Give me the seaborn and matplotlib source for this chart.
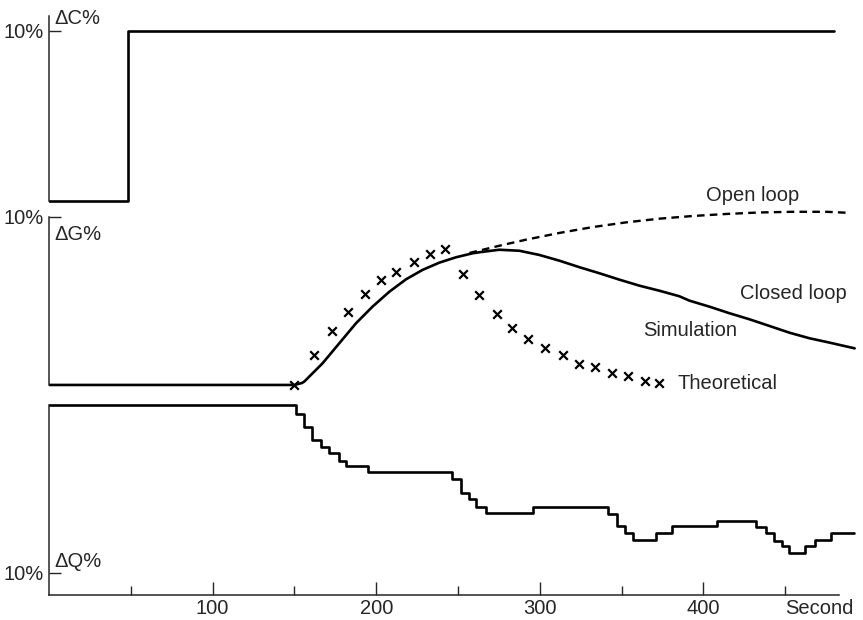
import numpy as np
import seaborn as sns
import matplotlib.pyplot as plt

# data (time in s, values in %)
c_t = [0, 48, 480]
c_val = [0, 10, 10]

closed_t = [0, 150, 154.7, 156, 167.2, 177.4, 187.6, 197.7, 208, 218.2, 228.3, 238.5, 248.7, 258.9,
            263, 275.2, 287.5, 299.7, 311.9, 324.2, 336.4, 348.6, 360.9, 373.1, 385.3, 391.4,
            403.7, 415.9, 428.1, 440.4, 452.6, 464.8, 477.1, 492.4]
closed_val = [0, 0, 0.12, 0.2, 1.29, 2.48, 3.67, 4.66, 5.55, 6.29, 6.85, 7.28, 7.6, 7.84,
              7.9, 8.05, 7.99, 7.74, 7.4, 7.01, 6.65, 6.27, 5.91, 5.61, 5.28, 5.02,
              4.66, 4.27, 3.91, 3.51, 3.11, 2.78, 2.52, 2.18]

open_t = [257, 263, 277, 291.6, 311.9, 332.3, 352.7, 373.1, 393.5, 413.9, 434.3, 454.6, 475, 488.3]
open_val = [7.86, 8.0, 8.33, 8.65, 9.05, 9.4, 9.68, 9.9, 10.06, 10.18, 10.27, 10.31, 10.31, 10.25]

theo_t = [150, 162, 173, 183, 193, 203, 212, 223, 233, 242, 253, 263, 274, 283, 293, 303, 314, 324, 334, 344, 354, 364, 373]
theo_val = [0, 1.79, 3.21, 4.36, 5.42, 6.25, 6.75, 7.3, 7.78, 8.07, 6.61, 5.36, 4.23, 3.37, 2.74, 2.18, 1.79, 1.25, 1.09, 0.69, 0.54, 0.26, 0.14]

q_t = [0, 151, 156, 161, 166, 171, 177, 181.5, 195, 246, 252, 257, 261, 267, 296, 341.5, 347, 352, 357, 371, 381, 408, 432, 438, 443, 448, 452.5, 462, 468, 478, 492]
q_val = [0, -0.54, -1.33, -2.08, -2.52, -2.84, -3.32, -3.63, -3.99, -4.42, -5.26, -5.61, -6.09, -6.45, -6.09, -6.49, -7.2, -7.6, -8.04, -7.6, -7.2, -6.89, -7.24, -7.64, -8.08, -8.39, -8.83, -8.39, -8.04, -7.64, -7.64]

major_ticks = [100, 200, 300, 400]
minor_ticks = [50, 150, 250, 350, 450]

sns.set_style("ticks")
plt.rcParams["font.family"] = ["Liberation Sans", "DejaVu Sans"]
FS = 14.5
LW = 1.9

W, H = 863, 620
fig = plt.figure(figsize=(W / 100, H / 100), dpi=100)

def panel(top_px, bot_px, ylim):
    ax = fig.add_axes([49 / W, 1 - bot_px / H, 1 - 49 / W, (bot_px - top_px) / H])
    ax.set_facecolor("none")
    ax.set_xlim(0, 497.5)
    ax.set_ylim(*ylim)
    for s in ["top", "right", "bottom"]:
        ax.spines[s].set_visible(False)
    ax.spines["left"].set_linewidth(1.1)
    ax.tick_params(axis="y", direction="in", length=8.5, width=1, labelsize=FS, pad=4)
    ax.tick_params(axis="x", bottom=False, labelbottom=False)
    ax.set_xlabel("")
    ax.set_ylabel("")
    return ax

ax1 = panel(10.6, 206.1, (-0.3, 11.2))
ax2 = panel(183.4, 390, (-0.3, 12))
ax3 = panel(396.6, 595, (-11.31, 0.5))

# top: delta C
sns.lineplot(x=c_t, y=c_val, ax=ax1, color="black", lw=LW, drawstyle="steps-post",
             estimator=None, sort=False)
ax1.spines["left"].set_bounds(0, 10.9)
ax1.set_yticks([10], ["10%"])
ax1.text(3, 10.75, "\u0394C%", fontsize=FS, va="center", ha="left")

# middle: delta G
sns.lineplot(x=closed_t, y=closed_val, ax=ax2, color="black", lw=LW, estimator=None, sort=False)
sns.lineplot(x=open_t, y=open_val, ax=ax2, color="black", lw=LW * 0.9, estimator=None, sort=False,
             linestyle=(0, (3.2, 2.2)))
sns.scatterplot(x=theo_t, y=theo_val, ax=ax2, marker="x", color="black", s=38, linewidth=1.6)
ax2.spines["left"].set_bounds(0, 10)
ax2.set_yticks([10], ["10%"])
ax2.text(3, 8.93, "\u0394G%", fontsize=FS, va="center", ha="left")
ax2.text(430, 11.3, "Open loop", fontsize=FS, ha="center", va="center", clip_on=False)
ax2.text(455, 5.45, "Closed loop", fontsize=FS, ha="center", va="center")
ax2.text(392, 3.27, "Simulation", fontsize=FS, ha="center", va="center")
ax2.text(384, 0.06, "Theoretical", fontsize=FS, ha="left", va="center")

# bottom: delta Q
sns.lineplot(x=q_t, y=q_val, ax=ax3, color="black", lw=LW, drawstyle="steps-post",
             estimator=None, sort=False)
ax3.spines["left"].set_bounds(-11.31, 0)
ax3.spines["bottom"].set_visible(True)
ax3.spines["bottom"].set_linewidth(1.1)
ax3.spines["bottom"].set_bounds(0, 483)
ax3.set_yticks([-10], ["10%"])
ax3.text(3, -9.3, "\u0394Q%", fontsize=FS, va="center", ha="left")
ax3.set_xticks(major_ticks, [str(t) for t in major_ticks])
ax3.set_xticks(minor_ticks, minor=True)
ax3.tick_params(axis="x", which="major", bottom=True, labelbottom=True, direction="in",
                length=9.5, width=1, labelsize=FS, pad=3)
ax3.tick_params(axis="x", which="minor", bottom=True, direction="in", length=6.5, width=1)
ax3.annotate("Second", xy=(471, 0), xycoords=("data", "axes fraction"), xytext=(0, -3),
             textcoords="offset points", ha="center", va="top", fontsize=FS)

fig.savefig("out.png", dpi=100)
